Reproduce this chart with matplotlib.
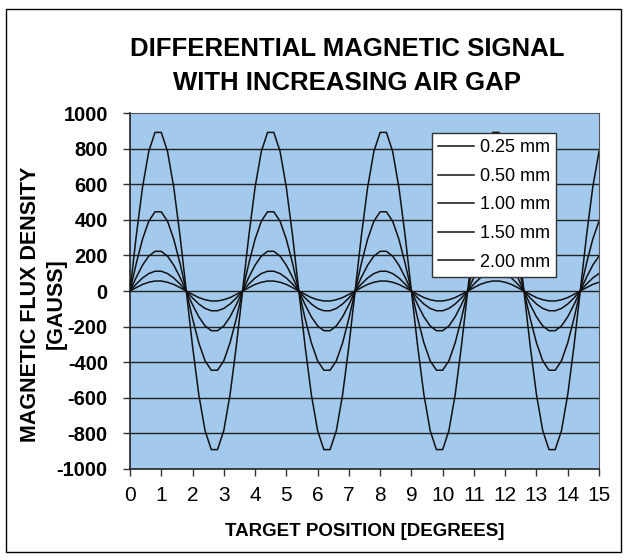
import matplotlib
matplotlib.use("Agg")
import matplotlib.pyplot as plt
from matplotlib.patches import Rectangle

# target position in degrees, sampled every 0.2 deg
position = [round(i * 0.2, 1) for i in range(76)]

# flux density readings (gauss) for each air gap
gap_025 = [
    0, 310, 582, 784, 891, 891, 784, 582, 310, 0, -310, -582, -784, -891, -891, -784, -582, -310,
    0, 310, 582, 784, 891, 891, 784, 582, 310, 0, -310, -582, -784, -891, -891, -784, -582, -310,
    0, 310, 582, 784, 891, 891, 784, 582, 310, 0, -310, -582, -784, -891, -891, -784, -582, -310,
    0, 310, 582, 784, 891, 891, 784, 582, 310, 0, -310, -582, -784, -891, -891, -784, -582, -310,
    0, 310, 582, 784,
]
gap_050 = [
    0, 155, 291, 392, 445, 445, 392, 291, 155, 0, -155, -291, -392, -445, -445, -392, -291, -155,
    0, 155, 291, 392, 445, 445, 392, 291, 155, 0, -155, -291, -392, -445, -445, -392, -291, -155,
    0, 155, 291, 392, 445, 445, 392, 291, 155, 0, -155, -291, -392, -445, -445, -392, -291, -155,
    0, 155, 291, 392, 445, 445, 392, 291, 155, 0, -155, -291, -392, -445, -445, -392, -291, -155,
    0, 155, 291, 392,
]
gap_100 = [
    0, 77, 145, 196, 223, 223, 196, 145, 77, 0, -77, -145, -196, -223, -223, -196, -145, -77,
    0, 77, 145, 196, 223, 223, 196, 145, 77, 0, -77, -145, -196, -223, -223, -196, -145, -77,
    0, 77, 145, 196, 223, 223, 196, 145, 77, 0, -77, -145, -196, -223, -223, -196, -145, -77,
    0, 77, 145, 196, 223, 223, 196, 145, 77, 0, -77, -145, -196, -223, -223, -196, -145, -77,
    0, 77, 145, 196,
]
gap_150 = [
    0, 39, 73, 98, 111, 111, 98, 73, 39, 0, -39, -73, -98, -111, -111, -98, -73, -39,
    0, 39, 73, 98, 111, 111, 98, 73, 39, 0, -39, -73, -98, -111, -111, -98, -73, -39,
    0, 39, 73, 98, 111, 111, 98, 73, 39, 0, -39, -73, -98, -111, -111, -98, -73, -39,
    0, 39, 73, 98, 111, 111, 98, 73, 39, 0, -39, -73, -98, -111, -111, -98, -73, -39,
    0, 39, 73, 98,
]
gap_200 = [
    0, 19, 37, 49, 56, 56, 49, 37, 19, 0, -19, -37, -49, -56, -56, -49, -37, -19,
    0, 19, 37, 49, 56, 56, 49, 37, 19, 0, -19, -37, -49, -56, -56, -49, -37, -19,
    0, 19, 37, 49, 56, 56, 49, 37, 19, 0, -19, -37, -49, -56, -56, -49, -37, -19,
    0, 19, 37, 49, 56, 56, 49, 37, 19, 0, -19, -37, -49, -56, -56, -49, -37, -19,
    0, 19, 37, 49,
]
series = [gap_025, gap_050, gap_100, gap_150, gap_200]
labels = ["0.25 mm", "0.50 mm", "1.00 mm", "1.50 mm", "2.00 mm"]
x_ticks = list(range(16))
y_ticks = list(range(-1000, 1001, 200))

plt.rcParams["font.family"] = ["Liberation Sans", "DejaVu Sans"]

fig = plt.figure(figsize=(6.27, 5.6), dpi=100)
fig.patches.append(Rectangle((6 / 627, 8 / 560), 615 / 627, 543 / 560, transform=fig.transFigure,
                             fill=False, edgecolor="black", linewidth=1.0))

ax = fig.add_axes([130 / 627, 1 - 469 / 560, 469 / 627, 356 / 560])
ax.set_facecolor("#a3c9ec")

for yv in y_ticks[1:-1]:
    ax.axhline(yv, color="#222222", linewidth=1.0, zorder=1)

for vals, lab in zip(series, labels):
    ax.plot(position, vals, color="#111111", linewidth=1.1, label=lab, zorder=3)

ax.set_xlim(0, 15)
ax.set_ylim(-1000, 1000)
ax.set_xticks(x_ticks)
ax.set_yticks(y_ticks)
ax.set_xticklabels([str(v) for v in x_ticks], fontsize=15)
ax.set_yticklabels([str(v) for v in y_ticks], fontsize=14.5, fontweight="bold")
ax.tick_params(axis="x", direction="out", length=5, width=1, color="#333333", pad=7)
ax.tick_params(axis="y", direction="out", length=5, width=1, color="#333333", pad=11)
for side in ["top", "right"]:
    ax.spines[side].set_color("#555555")
for side in ["left", "bottom"]:
    ax.spines[side].set_color("#222222")
    ax.spines[side].set_linewidth(1.2)

ax.set_xlabel("TARGET POSITION [DEGREES]", fontsize=13.5, fontweight="bold", labelpad=13)
ax.set_ylabel("MAGNETIC FLUX DENSITY\n[GAUSS]", fontsize=15.5, fontweight="bold",
              linespacing=1.3)
ax.yaxis.set_label_coords((67 - 130) / 469, (469 - 304) / 356)

leg = ax.legend(loc="upper left", bbox_to_anchor=((432 - 130) / 469, (469 - 133) / 356),
                fontsize=13, frameon=True, fancybox=False, handlelength=2.0,
                handletextpad=0.3, labelspacing=0.64, borderpad=0.35, borderaxespad=0)
leg.get_frame().set_edgecolor("#333333")
leg.get_frame().set_linewidth(1.0)
leg.get_frame().set_facecolor("white")
leg.get_frame().set_alpha(1)

fig.text(347 / 627, 1 - 49 / 560, "DIFFERENTIAL MAGNETIC SIGNAL", ha="center", va="center",
         fontsize=18.5, fontweight="bold")
fig.text(347 / 627, 1 - 83 / 560, "WITH INCREASING AIR GAP", ha="center", va="center",
         fontsize=18.5, fontweight="bold")

fig.savefig("out.png", dpi=100)
